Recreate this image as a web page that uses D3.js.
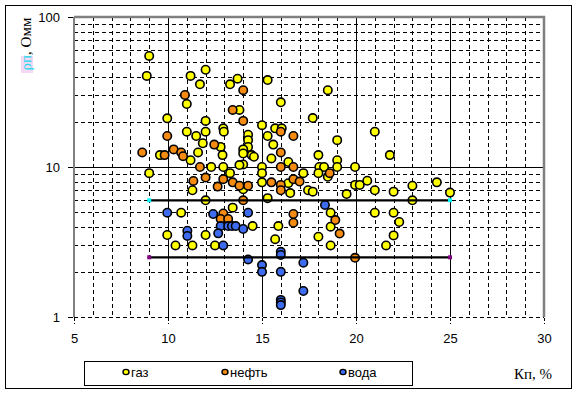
<!DOCTYPE html>
<html>
<head>
<meta charset="utf-8">
<script src="https://cdn.jsdelivr.net/npm/d3@7"></script>
<style>
  body { margin: 0; background: #fff; }
  svg { display: block; }
</style>
</head>
<body>
<svg id="chart"></svg>
<script>
// Kп, % vs Rп, Омм
const gas = [
  [9.0,55],[8.87,40.5],[11.2,40.5],[12.0,44.5],[11.7,35.6],[13.3,35.6],[13.7,38.8],[15.3,38],
  [16.0,27],[11.0,26.3],[13.8,24],[9.96,21.1],[12.0,20.3],[15.0,19],[11.0,17.2],[11.5,16.1],
  [12.0,17.2],[11.85,14.4],[12.94,18.1],[12.97,17.2],[12.8,13.6],[12.9,12.0],[14.26,16.4],
  [14.26,15.1],[14.26,13.6],[14.0,13.1],[14.45,12.0],[14.57,11.7],[14.0,10.4],[15.3,16.1],
  [15.6,14.1],[15.7,18.1],[16.05,18.1],[15.5,11.4],[16.4,10.8],[9.57,12.0],[11.2,11.1],
  [11.6,12.5],[12.3,10.0],[12.94,10.0],[15.0,10.0],[18.5,32.5],[17.7,21.2],[21.0,17.2],
  [19.0,15.1],[18.0,12.0],[19.0,11.1],[21.8,12.0],[18.05,10.0],[18.3,10.0],[19.0,10.0],
  [19.95,10.0],[18.0,9.1],[18.5,8.6],[17.2,9.1],[16.4,7.8],[16.5,6.7],[17.45,7.0],[17.7,6.85],
  [19.95,7.6],[20.2,7.6],[20.6,8.1],[21.0,7.0],[19.5,6.6],[22.0,6.85],[23.0,7.5],[24.3,7.9],
  [25.0,6.75],[23.0,6.0],[18.65,4.96],[18.65,4.0],[18.0,3.43],[18.65,3.0],[21.0,4.96],
  [22.0,4.96],[22.3,4.3],[22.0,3.5],[21.6,3.0],[9.0,9.1],[11.3,7.0],[13.3,9.1],[14.0,7.1],
  [15.0,9.1],[15.0,7.9],[15.3,6.2],[12.0,6.0],[10.7,4.96],[13.44,5.36],[14.5,4.04],[9.96,3.52],
  [12.0,3.52],[10.4,3.0],[11.3,3.0],[12.5,3.0],[15.87,4.04],[15.7,3.3],[13.8,10.3],[14.0,12.3]
];
const oil = [
  [14.0,32.5],[10.9,30.2],[13.44,24],[14.0,20.3],[9.96,16.1],[12.46,14.1],[16.0,17.2],
  [16.67,16.1],[16.0,12.5],[8.63,12.5],[9.82,12.0],[10.3,13.1],[10.7,12.5],[10.8,11.8],
  [11.7,10.0],[16.0,10.0],[16.67,10.0],[18.6,9.1],[16.67,8.3],[17.0,8.0],[11.35,8.07],
  [12.0,8.5],[12.94,8.3],[13.44,7.9],[12.64,7.4],[13.8,7.5],[14.26,7.5],[15.5,7.9],[16.0,7.6],
  [16.0,7.0],[14.0,6.0],[12.94,4.9],[12.8,4.5],[13.2,4.5],[16.67,4.86],[16.67,4.25],
  [18.9,4.43],[19.13,3.6],[19.95,2.48]
];
const water = [
  [18.35,5.58],[17.2,2.3],[17.2,1.49],[9.96,4.96],[12.4,4.86],[14.26,4.96],[12.8,4.04],
  [13.2,4.04],[13.4,4.04],[13.6,4.04],[14.0,3.86],[12.67,3.61],[11.03,3.76],[11.03,3.47],
  [12.94,3.0],[16.0,2.72],[16.0,2.59],[14.26,2.42],[15.0,2.22],[15.0,2.0],[16.0,2.0],
  [16.0,1.3],[16.0,1.25],[16.0,1.2]
];
// boundary lines
const gasLine = [[9,6],[25,6]];
const waterLine = [[9,2.5],[25,2.5]];

const xTicks = [5, 10, 15, 20, 25, 30];
const yTicks = [1, 10, 100];
const seriesNames = ["газ", "нефть", "вода"];
const seriesColors = ["#ffff00", "#f68b12", "#3d6cf0"];

const W = 576, H = 393;
const svg = d3.select("#chart").attr("width", W).attr("height", H);

const x = d3.scaleLinear().domain([5, 30]).range([74, 544]);
const y = d3.scaleLog().domain([1, 100]).range([317, 17]);

// outer frame
svg.append("rect").attr("x", 5.5).attr("y", 5.5).attr("width", 566).attr("height", 383)
  .attr("fill", "#fff").attr("stroke", "#000");

const grid = svg.append("g");
// minor grid, dashed
const xMinor = d3.range(6, 30).filter(d => d % 5 !== 0);
const yMinor = [2,3,4,5,6,7,8,9,20,30,40,50,60,70,80,90];
grid.selectAll(".xm").data(xMinor).join("line")
  .attr("x1", d => Math.round(x(d)) + 0.5).attr("x2", d => Math.round(x(d)) + 0.5)
  .attr("y1", y(100)).attr("y2", y(1))
  .attr("stroke", "#000").attr("stroke-dasharray", "4,3");
grid.selectAll(".ym").data(yMinor.concat([1])).join("line")
  .attr("y1", d => Math.round(y(d)) + 0.5).attr("y2", d => Math.round(y(d)) + 0.5)
  .attr("x1", x(5)).attr("x2", x(30))
  .attr("stroke", "#000").attr("stroke-dasharray", "4,3");
// major grid, solid
grid.selectAll(".xM").data([10, 15, 20, 25]).join("line")
  .attr("x1", d => Math.round(x(d)) + 0.5).attr("x2", d => Math.round(x(d)) + 0.5)
  .attr("y1", y(100)).attr("y2", y(1)).attr("stroke", "#000");
grid.append("line")
  .attr("y1", Math.round(y(10)) + 0.5).attr("y2", Math.round(y(10)) + 0.5)
  .attr("x1", x(5)).attr("x2", x(30)).attr("stroke", "#000");

// plot border top/right/left (gray)
svg.append("path")
  .attr("d", `M${x(5)},${y(100)}H${x(30)}V${y(1)}`)
  .attr("fill", "none").attr("stroke", "#808080").attr("stroke-width", 2.5);
svg.append("line").attr("x1", x(5)).attr("x2", x(5)).attr("y1", y(100)).attr("y2", y(1))
  .attr("stroke", "#808080").attr("stroke-width", 2);

// axes
const xAxis = d3.axisBottom(x).tickValues(xTicks).tickSize(6).tickSizeOuter(0).tickPadding(10);
const gx = svg.append("g").attr("transform", `translate(0,${y(1) + 1})`).call(xAxis)
  .attr("font-family", "'Liberation Sans', Arial, sans-serif").attr("font-size", 13);
gx.select(".domain").remove();
gx.selectAll(".tick line").attr("stroke-dasharray", "3,2");

const yAxis = d3.axisLeft(y).tickValues(yTicks).tickFormat(d3.format("d")).tickSize(5).tickSizeOuter(0).tickPadding(8);
const gy = svg.append("g").attr("transform", `translate(${x(5) - 1},0)`).call(yAxis)
  .attr("font-family", "'Liberation Sans', Arial, sans-serif").attr("font-size", 13);
gy.select(".domain").remove();

// markers
const series = [gas, oil, water];
series.forEach((data, i) => {
  svg.append("g").selectAll("circle").data(data).join("circle")
    .attr("cx", d => x(d[0])).attr("cy", d => y(d[1])).attr("r", 4.2)
    .attr("fill", seriesColors[i]).attr("stroke", "#000").attr("stroke-width", 1.6);
});

// boundary lines
const line = d3.line().x(d => x(d[0])).y(d => y(d[1]));
[[gasLine, "#00ffff"], [waterLine, "#800080"]].forEach(([data, c]) => {
  svg.append("path").datum(data).attr("d", line)
    .attr("fill", "none").attr("stroke", "#000").attr("stroke-width", 2.2);
  svg.append("g").selectAll("rect").data(data).join("rect")
    .attr("x", d => x(d[0]) - 2).attr("y", d => y(d[1]) - 2)
    .attr("width", 4).attr("height", 4).attr("fill", c);
});

// axis titles
svg.append("rect").attr("x", 21).attr("y", 56).attr("width", 12).attr("height", 17).attr("fill", "#f4d8f4");
const yt = svg.append("text")
  .attr("transform", `translate(31,${44}) rotate(-90)`)
  .attr("text-anchor", "middle")
  .style("font-family", "'Liberation Serif', 'Times New Roman', serif")
  .style("font-size", "15px");
yt.append("tspan").attr("fill", "#22d8e8").text("ρп");
yt.append("tspan").attr("fill", "#000").text(", Омм");

svg.append("text").attr("x", 533).attr("y", 379).attr("text-anchor", "middle")
  .style("font-family", "'Liberation Serif', 'Times New Roman', serif")
  .style("font-size", "15px").text("Кп, %");

// legend
const lg = svg.append("g");
lg.append("rect").attr("x", 84.5).attr("y", 361.5).attr("width", 328).attr("height", 24)
  .attr("fill", "#fff").attr("stroke", "#000");
const legX = [126, 225, 343];
seriesNames.forEach((name, i) => {
  lg.append("ellipse").attr("cx", legX[i]).attr("cy", 372).attr("rx", 3).attr("ry", 2.6)
    .attr("fill", seriesColors[i]).attr("stroke", "#000").attr("stroke-width", 1.4);
  lg.append("text").attr("x", legX[i] + 5).attr("y", 377)
    .style("font-family", "'Liberation Sans', Arial, sans-serif").style("font-size", "13px")
    .text(name);
});
</script>
</body>
</html>
